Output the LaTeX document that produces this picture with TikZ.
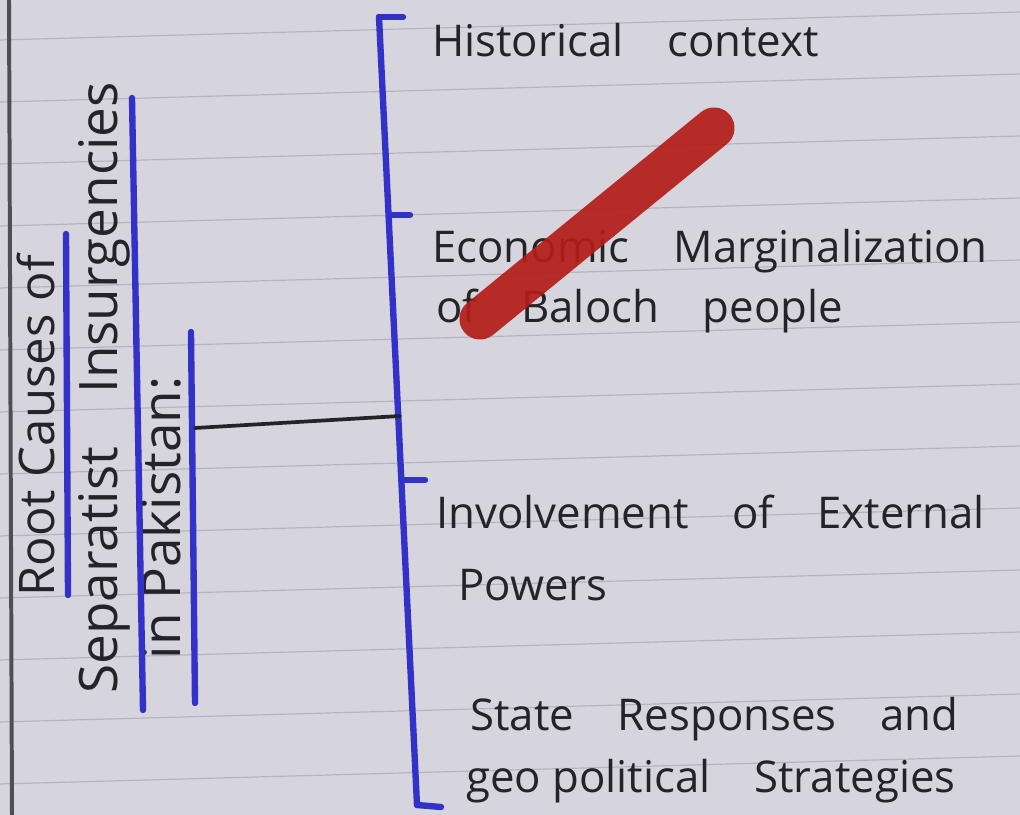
\documentclass[tikz,border=0pt]{standalone}
\usepackage{fontspec}
\setmainfont{Open Sans}
\definecolor{paper}{RGB}{214,213,222}
\definecolor{rule}{RGB}{180,180,192}
\definecolor{pen}{RGB}{50,50,200}
\definecolor{ink}{RGB}{35,35,40}
\definecolor{marker}{RGB}{180,28,24}
\begin{document}
\begin{tikzpicture}[x=0.0265cm,y=-0.0265cm,
  bluepen/.style={draw=pen,line width=4.8pt,line cap=round},
  blackpen/.style={draw=ink,line width=2.8pt,line cap=round},
  ruled/.style={draw=rule,line width=0.9pt},
  label/.style={anchor=base west,inner sep=0pt,text=ink,font=\fontsize{33}{38}\selectfont},
  titletext/.style={rotate=90,inner sep=0pt,text=ink,font=\fontsize{40}{44}\selectfont}]
\useasboundingbox (0,0) rectangle (1020,815);
\fill[paper] (0,0) rectangle (1020,815);
% ruled lines of the paper
\foreach \k in {0,...,13}{
  \draw[ruled] (0,{40+62*\k}) -- (1020,{12+62*\k});
}
\draw[draw=ink!80,line width=3pt] (9,0) -- (12,815);
% title
\node[titletext,font=\fontsize{37}{42}\selectfont] (title1) at (36,426) {Root Causes of};
\node[titletext] (title2) at (104,388) {Separatist\quad Insurgencies};
\node[titletext] (title3) at (161,518) {in Pakistan:};
\draw[bluepen] (66,234) -- (68,595);
\draw[bluepen] (132,98) -- (143,710);
\draw[bluepen] (191,332) -- (195,703);
\coordinate (stem) at (195,428);
% bracket
\coordinate (btop) at (379,17);
\coordinate (bbot) at (417,805);
\coordinate (b1) at (392,215);
\coordinate (b2) at (403,480);
\coordinate (bjoin) at (400,416);
\draw[bluepen] (btop) -- (bbot);
\draw[bluepen] (btop) -- ++(24,0);
\draw[bluepen] (b1) -- ++(18,0);
\draw[bluepen] (b2) -- ++(22,0);
\draw[bluepen] (bbot) -- ++(24,2);
\draw[blackpen] (stem) -- (bjoin);
% labels
\node[label] (h1) at (432,57) {Historical\quad context};
\node[label] (e1) at (432,262) {Economic\quad Marginalization};
\node[label] (e2) at (436,322) {of\quad Baloch\quad people};
\node[label] (i1) at (436,528) {Involvement\quad of\quad External};
\node[label] (i2) at (458,600) {Powers};
\node[label] (s1) at (470,730) {State\quad Responses\quad and};
\node[label] (s2) at (466,792) {geo political\quad Strategies};
% red marker stroke
\draw[draw=marker,opacity=0.92,line width=31pt,line cap=round] (480,319) -- (714,128);
\end{tikzpicture}
\end{document}
